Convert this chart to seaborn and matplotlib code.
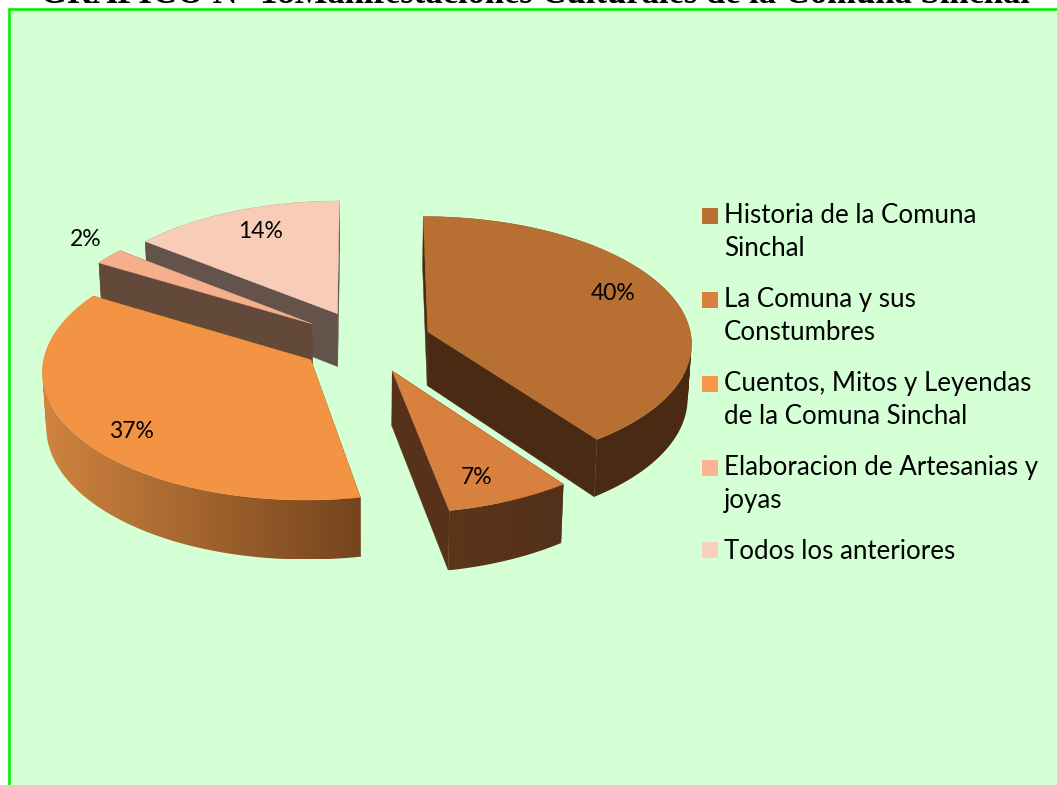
import numpy as np
import matplotlib
matplotlib.use("Agg")
import matplotlib.pyplot as plt
import seaborn as sns
from matplotlib.patches import Polygon, Rectangle
from matplotlib.path import Path
from matplotlib.legend_handler import HandlerPatch
from matplotlib.colors import LinearSegmentedColormap

# ---- data ----
categories = ["Historia de la Comuna\nSinchal", "La Comuna y sus\nConstumbres",
              "Cuentos, Mitos y Leyendas\nde la Comuna Sinchal",
              "Elaboracion de Artesanias y\njoyas", "Todos los anteriores"]
percentages = [40.0, 7.0, 36.6, 2.1, 14.3]
title_text = "GRÁFICO N° 18Manifestaciones Culturales de la Comuna Sinchal"

# ---- styles ----
top_colors = ["#B86F32", "#D8803D", "#F39444", "#F5AF8A", "#F7CDB8"]
legend_colors = ["#B86F32", "#D8803D", "#F8964A", "#FBB394", "#FCCFBD"]
radial_colors = ["#4A2A13", "#56321A", "#75441D", "#63493A", "#64534B"]
rim_left = ["#4A2A13", "#5C361B", "#D0843F", "#63493A", "#64534B"]
rim_right = ["#4A2A13", "#53301A", "#75441D", "#63493A", "#64534B"]
label_xy = [(613, 294), (477, 478), (131, 432), (86, 240), (261, 231)]

# ---- layout of the projected pie (figure pixels) ----
CX, CY = 365.5, 341.5
RX, RY = 264, 126
PERSP = 0.08
EXPLODE = 0.25
DEPTH = 54
BOTTOM_SCALE = 0.988
W, H = 1057, 785

sns.set_theme(style="white")
plt.rcParams["font.family"] = ["Lato", "DejaVu Sans"]
palette = sns.color_palette(legend_colors)

fig = plt.figure(figsize=(W / 100, H / 100), dpi=100, facecolor="white")
ax = fig.add_axes([0, 0, 1, 1])
ax.axis("off")

ax.add_patch(Rectangle((8.5, 8.5), W + 20, H + 20, facecolor="#D5FFD5",
                       edgecolor="#00F000", linewidth=1.9, zorder=0))


def project(X, Y, bottom=False):
    """World disc coordinates (Y going away from the viewer) to pixels."""
    w = 1 + PERSP * np.asarray(Y)
    x = RX * np.asarray(X) / w
    y = -RY * np.asarray(Y) / w
    if bottom:
        x = x * BOTTOM_SCALE
        y = y + DEPTH / w
    return np.column_stack([CX + x, CY + y])


def rim_clip_path(top, bot):
    """Union of the rim's quads, all wound the same way so folds stay filled."""
    paths = []
    for j in range(len(top) - 1):
        quad = np.array([top[j], top[j + 1], bot[j + 1], bot[j]])
        x, y = quad[:, 0], quad[:, 1]
        if np.dot(x, np.roll(y, -1)) - np.dot(y, np.roll(x, -1)) < 0:
            quad = quad[::-1]
        paths.append(Path(np.vstack([quad, quad[:1]]), closed=True))
    return Path.make_compound_path(*paths)


fractions = np.array(percentages) / sum(percentages)
edges = np.concatenate([[0], np.cumsum(fractions)]) * 2 * np.pi
slices = []
for i in range(len(percentages)):
    a0, a1 = edges[i], edges[i + 1]
    mid = (a0 + a1) / 2
    ox, oy = EXPLODE * np.sin(mid), EXPLODE * np.cos(mid)
    t = np.linspace(a0, a1, max(int(np.degrees(a1 - a0)), 4) + 1)
    slices.append((oy, i, ox, oy, t))

# Painter's order: slices further back first
for _, i, ox, oy, t in sorted(slices, key=lambda s: -s[0]):
    arc_top = project(ox + np.sin(t), oy + np.cos(t))
    arc_bot = project(ox + np.sin(t), oy + np.cos(t), bottom=True)
    apex_top = project([ox], [oy])
    apex_bot = project([ox], [oy], bottom=True)

    # radial walls
    for k in (0, -1):
        ax.add_patch(Polygon(
            [apex_top[0], arc_top[k], arc_bot[k], apex_bot[0]], closed=True,
            facecolor=radial_colors[i], edgecolor=radial_colors[i], linewidth=0.3, zorder=2))
    # outer rim: a horizontal gradient clipped to the rim's outline
    pts = np.vstack([arc_top, arc_bot])
    cmap = LinearSegmentedColormap.from_list("rim", [rim_left[i], rim_right[i]])
    im = ax.imshow(np.linspace(0, 1, 256)[None, :], cmap=cmap, aspect="auto",
                   extent=[pts[:, 0].min(), pts[:, 0].max(),
                           pts[:, 1].max(), pts[:, 1].min()],
                   interpolation="bilinear", zorder=2)
    im.set_clip_path(rim_clip_path(arc_top, arc_bot), transform=ax.transData)
    # top face
    ax.add_patch(Polygon(np.vstack([apex_top, arc_top]), closed=True,
                         facecolor=top_colors[i], edgecolor=top_colors[i],
                         linewidth=0.3, zorder=2))

ax.set_xlim(0, W)
ax.set_ylim(H, 0)

for pct, (lx, ly) in zip(percentages, label_xy):
    ax.text(lx, ly, f"{pct:.0f}%", ha="center", va="center", fontsize=16.5,
            color="black", zorder=5)

ax.text(535, 3, title_text, ha="center", va="baseline", fontsize=24.9,
        fontweight="bold", family="Liberation Serif", color="black", zorder=5)

FONT = 18.6
LINE_PX = 34
# Legend rows centre multi-line text on the handle; lift it to the first line.
LIFT_PT = LINE_PX / 2 * 0.72


class FirstLineHandler(HandlerPatch):
    def create_artists(self, legend, orig_handle, xdescent, ydescent, width,
                       height, fontsize, trans):
        n = orig_handle.get_label().count("\n")
        p = Rectangle((-xdescent, -ydescent + n * LIFT_PT), width, height)
        self.update_prop(p, orig_handle, legend)
        p.set_transform(trans)
        return [p]


handles = [Rectangle((0, 0), 1, 1, facecolor=c, edgecolor="none", label=l)
           for c, l in zip(palette, categories)]
leg = ax.legend(handles=handles, loc="upper left", bbox_to_anchor=(702 / W, 1 - 203 / H),
                frameon=False, fontsize=FONT, handlelength=0.62, handleheight=0.62,
                handletextpad=0.24, labelspacing=1.0, borderpad=0, borderaxespad=0,
                handler_map={Rectangle: FirstLineHandler()})
for txt in leg.get_texts():
    txt.set_linespacing(1.41)
    txt.set_color("black")

fig.savefig("out.png", dpi=100, facecolor="white")
